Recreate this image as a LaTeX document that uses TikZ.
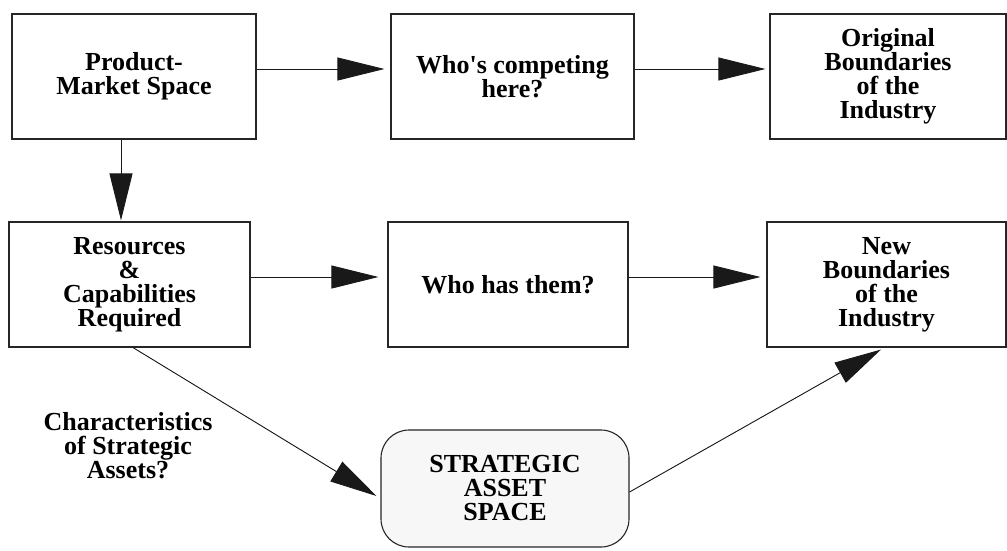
\documentclass[tikz,border=0pt]{standalone}
\usepackage{fontspec}
\setmainfont{Liberation Serif}
\usetikzlibrary{arrows.meta}
\newcommand{\dlab}{\fontsize{26}{24}\selectfont\bfseries}
\newcommand{\sq}{\XeTeXglyph\XeTeXcharglyph"0027\relax}
\begin{document}
\begin{tikzpicture}[x=1pt,y=-1pt,
  box/.style={draw=black!85, line width=1.1pt, fill=white, minimum width=#1,
    minimum height=125pt, inner sep=0pt, align=center, font=\dlab},
  space/.style={draw=black!85, line width=1.1pt, fill=black!3, rounded corners=28pt,
    minimum width=248pt, minimum height=117pt, inner sep=0pt, align=center, font=\dlab},
  lbl/.style={align=center, font=\dlab, inner sep=0pt},
  arr/.style={-{Triangle[length=47pt,width=23pt]}, line width=0.9pt, draw=black!90, fill=black!90}]
\useasboundingbox (0,0) rectangle (1007,550);
% row 1
\node[box=244pt] (b1) at (134,76.5) {Product-\\Market Space};
\node[box=243pt] (b2) at (512.5,76.5) {Who\sq s competing\\here?};
\node[box=236pt] (b3) at (888,76.5) {Original\\Boundaries\\of the\\Industry};
% row 2
\node[box=241pt] (b4) at (129.5,284.5) {Resources\\\&\\Capabilities\\Required};
\node[box=240pt] (b5) at (508,284.5) {Who has them?};
\node[box=239pt] (b6) at (886.5,284.5) {New\\Boundaries\\of the\\Industry};
% strategic asset space
\node[space] (s) at (505,488.5) {STRATEGIC\\ASSET\\SPACE};
\node[lbl] (q) at (128,446) {Characteristics\\of Strategic\\Assets?};
% connectors
\draw[arr] ([yshift=7.5pt]b1.east) -- ([xshift=-6pt,yshift=7.5pt]b2.west);
\draw[arr] ([yshift=7.5pt]b2.east) -- ([xshift=-4pt,yshift=7.5pt]b3.west);
\draw[arr] ([xshift=-13pt]b1.south) -- ([xshift=-8.5pt,yshift=1pt]b4.north);
\draw[arr] ([yshift=7.5pt]b4.east) -- ([xshift=-9pt,yshift=7.5pt]b5.west);
\draw[arr] ([yshift=7.5pt]b5.east) -- ([xshift=-6pt,yshift=7.5pt]b6.west);
\draw[arr] ([xshift=3.5pt]b4.south) -- ([xshift=-4pt,yshift=-7.5pt]s.west);
\draw[arr] ([yshift=-3.5pt]s.east) -- ([xshift=-5.5pt,yshift=-2pt]b6.south);
\end{tikzpicture}
\end{document}
